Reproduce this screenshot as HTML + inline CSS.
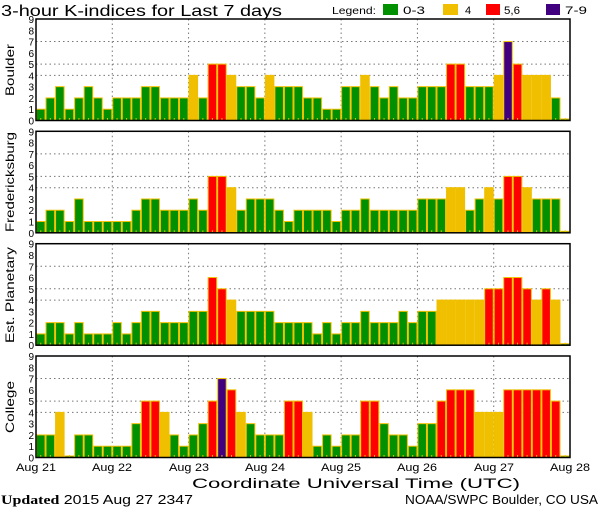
<!DOCTYPE html>
<html><head><meta charset="utf-8"><style>
html,body{margin:0;padding:0;background:#fff;width:600px;height:510px;overflow:hidden}
svg{display:block}
text{font-family:"Liberation Sans",sans-serif;fill:#000}
</style></head><body>
<svg id="s" width="600" height="510" xmlns="http://www.w3.org/2000/svg">
<text x="1" y="16" font-size="16" textLength="281" lengthAdjust="spacingAndGlyphs">3-hour K-indices for Last 7 days</text>
<text x="332" y="14" font-size="10" textLength="44" lengthAdjust="spacingAndGlyphs">Legend:</text>
<rect x="383" y="4" width="15" height="11" fill="#009000"/>
<text x="403" y="14" font-size="11" textLength="22" lengthAdjust="spacingAndGlyphs">0-3</text>
<rect x="443" y="4" width="15" height="11" fill="#f0c000"/>
<text x="465" y="14" font-size="11">4</text>
<rect x="486" y="4" width="14" height="11" fill="#ff0000"/>
<text x="504" y="14" font-size="11" textLength="16" lengthAdjust="spacingAndGlyphs">5,6</text>
<rect x="546" y="4" width="14" height="11" fill="#400080"/>
<text x="565" y="14" font-size="11" textLength="22" lengthAdjust="spacingAndGlyphs">7-9</text>
<g id="panels"></g>
<text x="14" y="70" font-size="12" transform="rotate(-90 14 70)" text-anchor="middle" textLength="52" lengthAdjust="spacingAndGlyphs">Boulder</text>
<text x="14" y="182" font-size="12" transform="rotate(-90 14 182)" text-anchor="middle" textLength="100" lengthAdjust="spacingAndGlyphs">Fredericksburg</text>
<text x="14" y="295" font-size="12" transform="rotate(-90 14 295)" text-anchor="middle" textLength="96" lengthAdjust="spacingAndGlyphs">Est. Planetary</text>
<text x="14" y="407" font-size="12" transform="rotate(-90 14 407)" text-anchor="middle" textLength="52" lengthAdjust="spacingAndGlyphs">College</text>
<g font-size="11" text-anchor="middle">
<text x="36" y="471" textLength="40" lengthAdjust="spacingAndGlyphs">Aug 21</text><text x="112" y="471" textLength="40" lengthAdjust="spacingAndGlyphs">Aug 22</text><text x="189" y="471" textLength="40" lengthAdjust="spacingAndGlyphs">Aug 23</text><text x="265" y="471" textLength="40" lengthAdjust="spacingAndGlyphs">Aug 24</text><text x="341" y="471" textLength="40" lengthAdjust="spacingAndGlyphs">Aug 25</text><text x="417" y="471" textLength="40" lengthAdjust="spacingAndGlyphs">Aug 26</text><text x="494" y="471" textLength="40" lengthAdjust="spacingAndGlyphs">Aug 27</text><text x="570" y="471" textLength="40" lengthAdjust="spacingAndGlyphs">Aug 28</text>
</g>
<text x="192" y="488" font-size="14" textLength="328" lengthAdjust="spacingAndGlyphs">Coordinate Universal Time (UTC)</text>
<text x="1" y="504" font-size="13" textLength="192" lengthAdjust="spacingAndGlyphs"><tspan font-family="Liberation Serif" font-weight="bold">Updated</tspan> 2015 Aug 27 2347</text>
<text x="405" y="504" font-size="13" textLength="193" lengthAdjust="spacingAndGlyphs">NOAA/SWPC Boulder, CO USA</text>
</svg>
<script>
var D=[
[1,2,3,1,2,3,2,1, 2,2,2,3,3,2,2,2, 4,2,5,5,4,3,3,2, 4,3,3,3,2,2,1,1, 3,3,4,3,2,3,2,2, 3,3,3,5,5,3,3,3, 4,7,5,4,4,4,2,0],
[1,2,2,1,3,1,1,1, 1,1,2,3,3,2,2,2, 3,2,5,5,4,2,3,3, 3,2,1,2,2,2,2,1, 2,2,3,2,2,2,2,2, 3,3,3,4,4,2,3,4, 3,5,5,4,3,3,3,0],
[1,2,2,1,2,1,1,1, 2,1,2,3,3,2,2,2, 3,3,6,5,4,3,3,3, 3,2,2,2,2,1,2,1, 2,2,3,2,2,2,3,2, 3,3,4,4,4,4,4,5, 5,6,6,5,4,5,4,0],
[2,2,4,0,2,2,1,1, 1,1,3,5,5,4,2,1, 2,3,5,7,6,4,3,2, 2,2,5,5,4,1,2,1, 2,2,5,5,3,2,2,1, 3,3,5,6,6,6,4,4, 4,6,6,6,6,6,5,0]];
var tops=[19,131.3,243.7,356],H=101.5,X0=36,X1=570,W=(X1-X0)/56,u=H/9,h='';
function col(k){return k>=7?'#400080':k>=5?'#ff0000':k==4?'#f0c000':'#009000';}
for(var p=0;p<4;p++){var t=tops[p],b=t+H;
 h+='<rect x="'+X0+'" y="'+t+'" width="'+(X1-X0)+'" height="'+H+'" fill="#fff"/>';
 [4,5,7].forEach(function(k){var y=b-k*u;h+='<line x1="'+X0+'" x2="'+X1+'" y1="'+y+'" y2="'+y+'" stroke="#777" stroke-dasharray="1.5,3"/>';});
 for(var d=1;d<7;d++){var x=X0+d*8*W;h+='<line x1="'+x+'" x2="'+x+'" y1="'+t+'" y2="'+b+'" stroke="#777" stroke-dasharray="1.5,3"/>';}
 for(var i=0;i<56;i++){var k=D[p][i],x=X0+i*W,bh=k==0?1.5:k*u;
  h+='<rect x="'+(x+0.5)+'" y="'+(b-bh)+'" width="'+(W-1)+'" height="'+bh+'" fill="'+col(k)+'" stroke="#f0c000" stroke-width="1"/>';
  h+='<line x1="'+(x+W/2)+'" x2="'+(x+W/2)+'" y1="'+(b-2.5)+'" y2="'+b+'" stroke="#f0c000"/>';}
 h+='<rect x="'+X0+'" y="'+t+'" width="'+(X1-X0)+'" height="'+H+'" fill="none" stroke="#000" stroke-width="1.5"/>';
 for(var k=0;k<=9;k++){h+='<text x="34" y="'+(b-k*u+4)+'" font-size="10" text-anchor="end">'+k+'</text>';}
}
document.getElementById('panels').innerHTML=h;
</script>
</body></html>
